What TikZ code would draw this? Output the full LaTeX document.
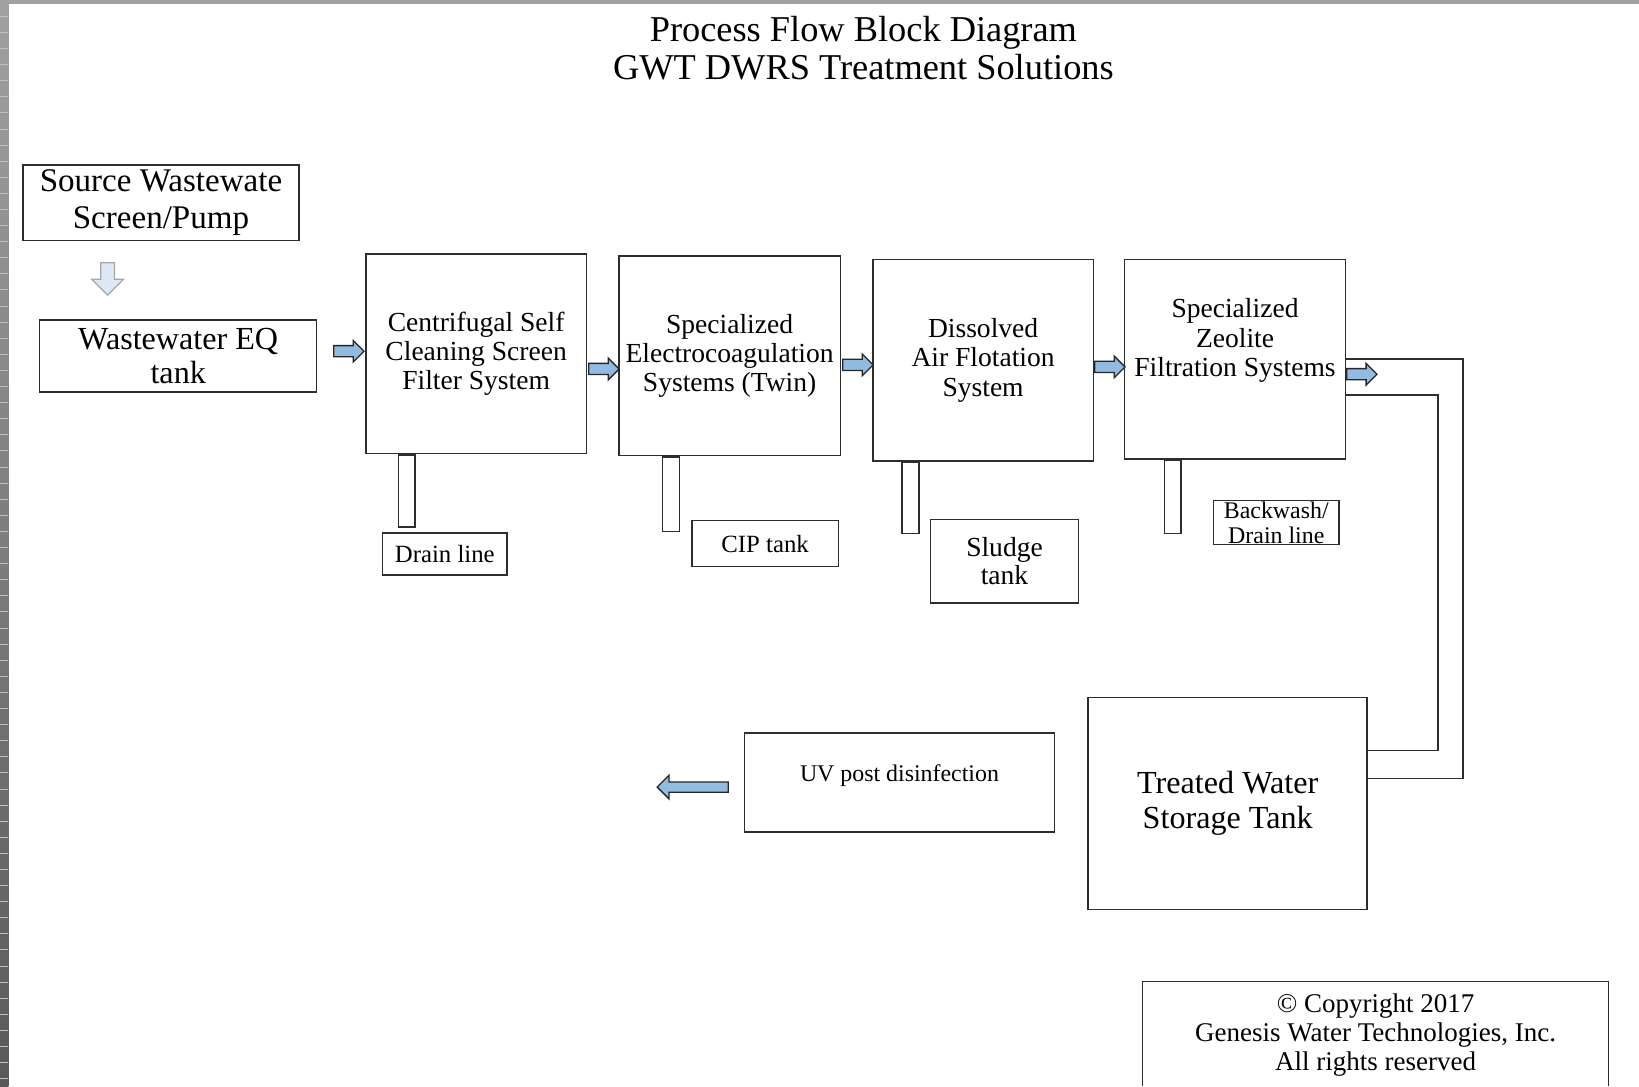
\documentclass[tikz,border=0pt]{standalone}
\usepackage{fontspec}
\setmainfont{Liberation Serif}
\usetikzlibrary{positioning,calc,shapes.arrows}
\definecolor{flowblue}{RGB}{146,187,226}
\definecolor{paleblue}{RGB}{220,234,247}
\definecolor{edgegray}{RGB}{45,45,45}
\tikzset{pbox/.style={draw=edgegray, line width=0.8pt, inner sep=0pt, align=center, font=\fontsize{15}{16}\selectfont}}
\tikzset{pbox0/.style={pbox, font=\fontsize{13.5}{13.7}\selectfont}}
\tikzset{pbig/.style={pbox, font=\fontsize{17.5}{18.6}\selectfont}}
\tikzset{pipe0/.style={draw=edgegray, line width=0.8pt, inner sep=0pt, minimum width=0.32cm, anchor=north west}}
\tikzset{farr/.style={single arrow, draw=black!85, fill=flowblue, line width=0.7pt, inner sep=0pt,
	text height=0.19cm, text depth=0pt, minimum width=0pt, single arrow head extend=0.1cm, minimum height=0.58cm, anchor=tail}}
\tikzset{farr0/.style={farr, draw=gray!70, fill=paleblue, text height=0pt, text width=0.24cm, single arrow head extend=0.17cm,
	shape border rotate=270, minimum height=0.62cm}}
\tikzset{retline/.style={draw=edgegray, line width=0.8pt}}
\begin{document}
\begin{tikzpicture}[x=0.02cm, y=-0.02cm]
\useasboundingbox (0,0) rectangle (1568,1039);
% frame of the slide
\fill[black!37] (0,0) rectangle (1568,4);
\shade[top color=black!37, bottom color=black!65] (0,0) rectangle (8,1039);
\foreach \i in {1,...,67}
	\draw[black!25, line width=0.3pt] (0,\i*15.4) -- (8,\i*15.4);

\node[font=\fontsize{19.8}{20.5}\selectfont, align=center] (title) at (826,46)
	{Process Flow Block Diagram\\GWT DWRS Treatment Solutions};

% main train
\node[pbox, font=\fontsize{18}{19.9}\selectfont, minimum width=5.28cm, minimum height=1.44cm] (src) at (154,194)
	{Source Wastewate\\Screen/Pump};
\node[pbig, minimum width=5.30cm, minimum height=1.38cm] (eq) at (170.5,340.5) {Wastewater EQ\\tank};
\node[pbox, minimum width=4.22cm, minimum height=3.82cm] (cent) at (455.5,338.5)
	{Centrifugal Self\\Cleaning Screen\\Filter System};
\node[pbox, minimum width=4.24cm, minimum height=3.82cm] (elec) at (698,340.5)
	{Specialized\\Electrocoagulation\\Systems (Twin)};
\node[pbox, minimum width=4.22cm, minimum height=3.86cm] (daf) at (940.5,344.5)
	{Dissolved\\Air Flotation\\System};
\node[pbox, minimum width=4.22cm, minimum height=3.82cm] (zeo) at (1181.5,343.5) {};
\node[align=center, font=\fontsize{15}{16}\selectfont] (zeotxt) at ([yshift=0.35cm]zeo.center)
	{Specialized\\Zeolite\\Filtration Systems};

% side streams
\node[pipe0, minimum height=1.38cm] (pipe1) at ([xshift=0.62cm]cent.south west) {};
\node[pipe0, minimum height=1.42cm] (pipe2) at ([xshift=0.84cm]elec.south west) {};
\node[pipe0, minimum height=1.36cm] (pipe3) at ([xshift=0.56cm]daf.south west) {};
\node[pipe0, minimum height=1.40cm] (pipe4) at ([xshift=0.76cm]zeo.south west) {};
\node[pbox0, minimum width=2.38cm, minimum height=0.80cm] (drain) at (425.5,530) {Drain line};
\node[pbox0, minimum width=2.80cm, minimum height=0.88cm] (cip) at (732,520) {CIP tank};
\node[pbox, font=\fontsize{15}{15.4}\selectfont, minimum width=2.84cm, minimum height=1.60cm] (sludge) at (961,537)
	{Sludge\\tank};
\node[pbox0, font=\fontsize{13}{13.7}\selectfont, minimum width=2.40cm, minimum height=0.84cm] (bwash) at (1221,500)
	{Backwash/\\Drain line};

% storage and polishing
\node[pbig, minimum width=5.34cm, minimum height=4.06cm] (tank) at (1174.5,768.5) {Treated Water\\Storage Tank};
\node[pbox, minimum width=5.94cm, minimum height=1.90cm] (uv) at (860.5,748.5) {};
\node[font=\fontsize{13}{14}\selectfont] (uvtxt) at ([yshift=0.13cm]uv.center) {UV post disinfection};

\draw[retline] (zeo.east) -- ++(112,0) |- ([yshift=0.47cm]tank.east);
\draw[retline] ([yshift=-0.69cm]zeo.east) -- ++(88,0) |- ([yshift=1.01cm]tank.east);

% flow arrows
\node[farr0] (a0) at ([xshift=-1.02cm,yshift=-0.40cm]src.south) {};
\node[farr] (a1) at ([xshift=0.30cm,yshift=0.09cm]eq.east) {};
\node[farr] (a2) at ([xshift=0.02cm,yshift=-0.29cm]cent.east) {};
\node[farr] (a3) at ([xshift=0.02cm,yshift=-0.17cm]elec.east) {};
\node[farr] (a4) at ([yshift=-0.13cm]daf.east) {};
\node[farr] (a5) at ([yshift=-0.29cm]zeo.east) {};
\node[farr, shape border rotate=180, text height=0.17cm, single arrow head extend=0.13cm, minimum height=1.36cm] (a6)
	at ([xshift=-0.28cm,yshift=-0.09cm]uv.west) {};

% copyright
\draw[retline] (1093,1039) -- (1093,939) -- (1539,939) -- (1539,1039);
\node[font=\fontsize{14.7}{15.9}\selectfont, align=center] (copy) at (1316,990)
	{\textcopyright{} Copyright 2017\\Genesis Water Technologies, Inc.\\All rights reserved};
\end{tikzpicture}
\end{document}
